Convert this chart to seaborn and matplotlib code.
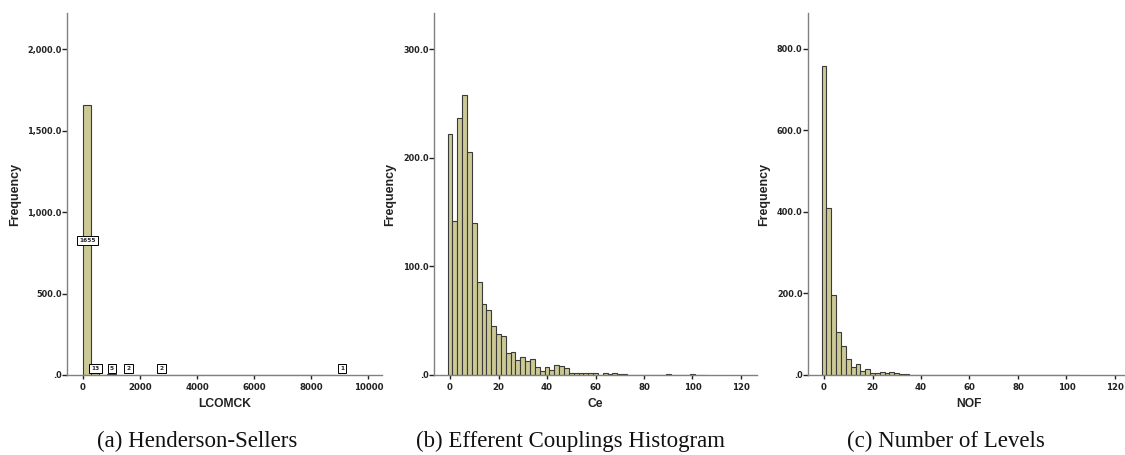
import numpy as np
import pandas as pd
import matplotlib
matplotlib.use("Agg")
import matplotlib.pyplot as plt
import seaborn as sns

# ---------------- data ----------------
# (a) LCOMCK histogram (bin width ~288)
lcom_bin_width = 288
lcom_centers = [144, 432, 1008, 1584, 2736, 9072]
lcom_counts = [1655, 13, 5, 2, 2, 1]

# (b) Ce histogram (bin width 2, centred on even values)
ce_centers = [0, 2, 4, 6, 8, 10, 12, 14, 16, 18, 20, 22, 24, 26, 28, 30, 32, 34, 36, 38,
              40, 42, 44, 46, 48, 50, 52, 54, 56, 58, 60, 64, 66, 68, 70, 72, 90, 100]
ce_counts = [222, 142, 237, 258, 205, 140, 86, 65, 60, 45, 38, 36, 20, 21, 14, 17, 13, 15, 7, 4,
             7, 5, 9, 8, 6, 2, 2, 2, 2, 2, 2, 2, 1, 2, 1, 1, 1, 1]

# (c) NOF histogram (bin width 2)
nof_centers = [0, 2, 4, 6, 8, 10, 12, 14, 16, 18, 20, 22, 24, 26, 28, 30, 32, 34, 36, 38,
               46, 48, 54, 58, 104]
nof_counts = [758, 410, 196, 105, 71, 39, 20, 28, 11, 14, 5, 4, 7, 6, 7, 4, 2, 3, 1, 1,
              1, 1, 1, 1, 1]

xlabels = ["LCOMCK", "Ce", "NOF"]
captions = ["(a) Henderson-Sellers", "(b) Efferent Couplings Histogram", "(c) Number of Levels"]

yticks_a = [0, 500, 1000, 1500, 2000]
yticklabels_a = [".0", "500.0", "1,000.0", "1,500.0", "2,000.0"]
yticks_b = [0, 100, 200, 300]
yticklabels_b = [".0", "100.0", "200.0", "300.0"]
yticks_c = [0, 200, 400, 600, 800]
yticklabels_c = [".0", "200.0", "400.0", "600.0", "800.0"]
xticks_a = [0, 2000, 4000, 6000, 8000, 10000]
xticks_bc = [0, 20, 40, 60, 80, 100, 120]

# ---------------- style ----------------
sns.set_style("white")
plt.rcParams["font.family"] = ["DejaVu Sans"]

FILL = "#cdc995"
EDGE = "#3a3a3a"
SPINE = "#808080"

W, H = 1125, 455
fig = plt.figure(figsize=(W / 100, H / 100), dpi=100)


def px_axes(left, right, top, bottom):
    return fig.add_axes([left / W, (H - bottom) / H, (right - left) / W, (bottom - top) / H])


ax_a = px_axes(67, 382, 13, 375)
ax_b = px_axes(434, 757, 13, 375)
ax_c = px_axes(808, 1131, 13, 375)

df_a = pd.DataFrame({"value": lcom_centers, "count": lcom_counts})
df_b = pd.DataFrame({"value": ce_centers, "count": ce_counts})
df_c = pd.DataFrame({"value": nof_centers, "count": nof_counts})

# (a)
sns.histplot(data=df_a, x="value", weights="count", binwidth=lcom_bin_width,
             binrange=(0, lcom_bin_width * 32), ax=ax_a,
             color=FILL, edgecolor=EDGE, linewidth=0.8, alpha=1)
ax_a.set_xlim(-550, 10480)
ax_a.set_ylim(0, 2221)
ax_a.set_yticks(yticks_a, yticklabels_a)
ax_a.set_xticks(xticks_a, [str(v) for v in xticks_a])

for cx, cnt in zip(lcom_centers, lcom_counts):
    y = max(cnt / 2, 42)
    ax_a.text(cx + 20, y, str(cnt), ha="center", va="center", fontsize=4.2,
              fontweight="bold", zorder=5,
              bbox=dict(boxstyle="square,pad=0.35", fc="white", ec="black", lw=0.7))

# (b)
sns.histplot(data=df_b, x="value", weights="count", binwidth=2, binrange=(-1, 105), ax=ax_b,
             color=FILL, edgecolor=EDGE, linewidth=0.8, alpha=1)
ax_b.set_xlim(-6.6, 126.6)
ax_b.set_ylim(0, 333.5)
ax_b.set_yticks(yticks_b, yticklabels_b)
ax_b.set_xticks(xticks_bc, [str(v) for v in xticks_bc])

# (c)
sns.histplot(data=df_c, x="value", weights="count", binwidth=2, binrange=(-1, 105), ax=ax_c,
             color=FILL, edgecolor=EDGE, linewidth=0.8, alpha=1)
ax_c.set_xlim(-6.6, 126.6)
ax_c.set_ylim(0, 888)
ax_c.set_yticks(yticks_c, yticklabels_c)
ax_c.set_xticks(xticks_bc, [str(v) for v in xticks_bc])

ylab_off = {ax_a: (15 - 67) / 315, ax_b: (390 - 434) / 323, ax_c: (764 - 808) / 323}
for ax, xl in zip([ax_a, ax_b, ax_c], xlabels):
    for s in ["top", "right"]:
        ax.spines[s].set_visible(False)
    for s in ["left", "bottom"]:
        ax.spines[s].set_color(SPINE)
        ax.spines[s].set_linewidth(1.0)
    ax.tick_params(axis="y", direction="out", length=3.6, width=1, color="#222222",
                   pad=0.3, labelsize=5.9, left=True)
    ax.tick_params(axis="x", direction="out", length=3, width=1, color="#222222",
                   pad=2.5, labelsize=6.2, bottom=True)
    for lab in ax.get_yticklabels() + ax.get_xticklabels():
        lab.set_fontweight("bold")
        lab.set_color("#222222")
    ax.set_xlabel(xl, fontsize=8.7, fontweight="bold", family="Liberation Sans", color="#222222")
    ax.set_ylabel("Frequency", fontsize=9, fontweight="bold", family="Liberation Sans",
                  color="#222222")
    ax.xaxis.label.set_va("center")
    ax.yaxis.label.set_va("center")
    ax.xaxis.set_label_coords(0.5, -29 / 362)
    ax.yaxis.set_label_coords(ylab_off[ax], 0.5)
    ax.grid(False)

cap_x = [197, 570, 946]
for cx, cap in zip(cap_x, captions):
    fig.text(cx / W, (H - 447) / H, cap, ha="center", va="baseline",
             fontsize=16.5, family="Liberation Serif", color="#111111")

fig.savefig("out.png", dpi=100, facecolor="white")
